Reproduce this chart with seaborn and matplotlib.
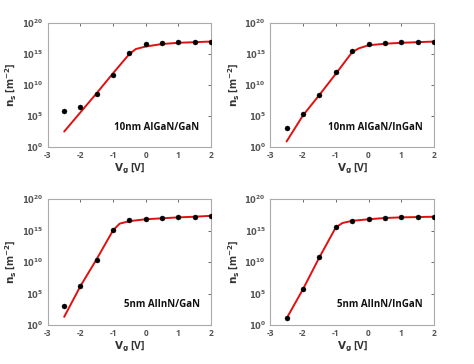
import numpy as np
import pandas as pd
import matplotlib
matplotlib.use("Agg")
import matplotlib.pyplot as plt
import seaborn as sns

# Gate voltage of the measured points
VG_POINTS = [-2.5, -2.0, -1.5, -1.0, -0.5, 0.0, 0.5, 1.0, 1.5, 2.0]

LOG_NS_ALGAN_GAN = [5.8, 6.5, 8.55, 11.6, 15.1, 16.6, 16.8, 16.9, 16.95, 16.95]
LOG_NS_ALGAN_INGAN = [3.15, 5.3, 8.4, 12.05, 15.5, 16.65, 16.8, 16.95, 17.0, 17.0]
LOG_NS_ALINN_GAN = [3.1, 6.2, 10.4, 15.05, 16.65, 16.9, 17.05, 17.2, 17.2, 17.3]
LOG_NS_ALINN_INGAN = [1.05, 5.7, 10.75, 15.5, 16.55, 16.8, 17.0, 17.1, 17.15, 17.2]

# Fitted model curves (red lines)
VG_FIT_ALGAN = [-2.5, -2.0, -1.5, -1.0, -0.5, -0.3, 0.0, 0.5, 1.0, 1.5, 2.0]
LOG_FIT_ALGAN_GAN = [2.5, 5.6, 8.7, 11.9, 15.0, 15.8, 16.2, 16.6, 16.8, 16.9, 17.0]
LOG_FIT_ALGAN_INGAN = [0.9, 5.1, 8.4, 11.8, 15.3, 15.9, 16.4, 16.65, 16.8, 16.9, 17.0]

VG_FIT_ALINN = [-2.5, -2.0, -1.5, -1.0, -0.8, -0.5, 0.0, 0.5, 1.0, 1.5, 2.0]
LOG_FIT_ALINN_GAN = [1.3, 6.2, 10.5, 15.05, 16.1, 16.5, 16.8, 16.95, 17.1, 17.2, 17.35]
LOG_FIT_ALINN_INGAN = [1.05, 5.7, 10.75, 15.5, 16.2, 16.55, 16.8, 17.0, 17.1, 17.15, 17.2]

LABELS = ['10nm AlGaN/GaN', '10nm AlGaN/InGaN', '5nm AlInN/GaN', '5nm AlInN/InGaN']
X_TICKS = [-3, -2, -1, 0, 1, 2]
Y_TICKS = [1e0, 1e5, 1e10, 1e15, 1e20]
Y_TICKLABELS = ['$\\mathbf{10^{0}}$', '$\\mathbf{10^{5}}$', '$\\mathbf{10^{10}}$',
                '$\\mathbf{10^{15}}$', '$\\mathbf{10^{20}}$']

panels = [
    (VG_FIT_ALGAN, LOG_FIT_ALGAN_GAN, LOG_NS_ALGAN_GAN),
    (VG_FIT_ALGAN, LOG_FIT_ALGAN_INGAN, LOG_NS_ALGAN_INGAN),
    (VG_FIT_ALINN, LOG_FIT_ALINN_GAN, LOG_NS_ALINN_GAN),
    (VG_FIT_ALINN, LOG_FIT_ALINN_INGAN, LOG_NS_ALINN_INGAN),
]

sns.set_style('white')
plt.rcParams['font.family'] = ['Open Sans', 'DejaVu Sans']
plt.rcParams['mathtext.fontset'] = 'dejavusans'

fig = plt.figure(figsize=(4.74, 3.64), dpi=100)
positions = [
    [0.101, 0.596, 0.344, 0.341],
    [0.570, 0.596, 0.346, 0.341],
    [0.101, 0.107, 0.344, 0.346],
    [0.570, 0.107, 0.346, 0.346],
]

for pos, (vg_fit, log_fit, log_pts), label in zip(positions, panels, LABELS):
    ax = fig.add_axes(pos)
    fit = pd.DataFrame({'vg': vg_fit, 'ns': np.power(10.0, log_fit)})
    pts = pd.DataFrame({'vg': VG_POINTS, 'ns': np.power(10.0, log_pts)})

    sns.lineplot(data=fit, x='vg', y='ns', ax=ax, color='#e01010', linewidth=1.4)
    sns.scatterplot(data=pts, x='vg', y='ns', ax=ax, color='black', s=13,
                    marker='o', edgecolor='black', zorder=3)

    ax.set_yscale('log')
    ax.set_xlim(-3, 2)
    ax.set_ylim(1e0, 1e20)
    ax.set_xticks(X_TICKS)
    ax.set_xticklabels([str(t) for t in X_TICKS], fontweight='bold')
    ax.set_yticks(Y_TICKS)
    ax.set_yticklabels(Y_TICKLABELS)
    ax.minorticks_off()
    ax.tick_params(axis='both', direction='in', length=2, labelsize=6,
                   colors='#555555', width=0.6, pad=3)
    ax.tick_params(top=True, right=True, labeltop=False, labelright=False)

    ax.set_xlabel('$\\mathbf{V_g}$ [V]', fontsize=7.5, color='#333333',
                  labelpad=1, fontweight='bold')
    ax.set_ylabel('$\\mathbf{n_s}$ [m$^{\\mathbf{-2}}$]', fontsize=7.5,
                  color='#333333', labelpad=2, fontweight='bold')

    for sp in ax.spines.values():
        sp.set_color('#aaaaaa')
        sp.set_linewidth(0.8)

    ax.text(1.65, 10 ** 3.2, label, ha='right', va='center', fontsize=7,
            fontweight='bold', color='#111111')

plt.savefig('out.png', dpi=100)
plt.close()
